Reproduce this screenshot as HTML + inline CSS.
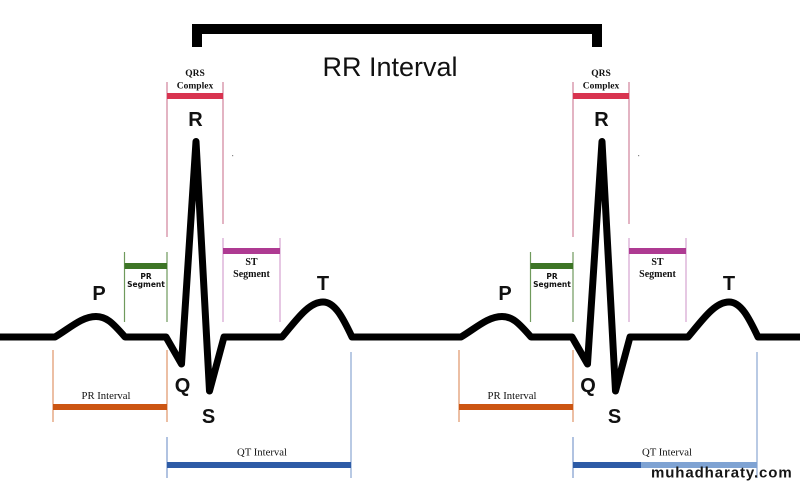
<!DOCTYPE html>
<html>
<head>
<meta charset="utf-8">
<style>
html,body{margin:0;padding:0;background:#fff;}
body{width:800px;height:486px;overflow:hidden;}
svg{display:block;}
.lbl{font-family:"Liberation Sans",Arial,sans-serif;font-weight:bold;font-size:20px;fill:#111;text-anchor:middle;}
.ser{font-family:"Liberation Serif",serif;fill:#111;text-anchor:middle;}
.seg{font-family:"DejaVu Sans",sans-serif;font-weight:bold;font-size:7.5px;fill:#111;text-anchor:middle;}
</style>
</head>
<body>
<svg width="800" height="486" viewBox="0 0 800 486" xmlns="http://www.w3.org/2000/svg">
<rect width="800" height="486" fill="#fff"/>

<!-- RR bracket -->
<rect x="192" y="24" width="410" height="10" fill="#000"/>
<rect x="192" y="24" width="10" height="23" fill="#000"/>
<rect x="592" y="24" width="10" height="23" fill="#000"/>
<text x="390" y="76" font-family="Liberation Sans, Arial, sans-serif" font-size="27" fill="#111" text-anchor="middle">RR Interval</text>

<!-- Beat 1 annotations -->
<g id="ann1">
  <!-- QRS -->
  <line x1="167" y1="82" x2="167" y2="237" stroke="#d0839b" stroke-width="1.2"/>
  <line x1="223" y1="82" x2="223" y2="224" stroke="#d0839b" stroke-width="1.2"/>
  <rect x="167" y="93" width="56" height="6" fill="#d8334f"/>
  <text class="ser" x="195" y="76" font-size="9.5" font-weight="bold">QRS</text>
  <text class="ser" x="195" y="88.5" font-size="9.5" font-weight="bold">Complex</text>
  <!-- PR segment -->
  <line x1="124.5" y1="252" x2="124.5" y2="322" stroke="#6f9a5c" stroke-width="1.2"/>
  <line x1="167" y1="252" x2="167" y2="322" stroke="#6f9a5c" stroke-width="1.2"/>
  <rect x="124.5" y="263" width="42.5" height="6" fill="#3d7526"/>
  <text class="seg" x="146" y="279">PR</text>
  <text class="seg" x="146" y="287">Segment</text>
  <!-- ST segment -->
  <line x1="223" y1="238" x2="223" y2="322" stroke="#d4a2d0" stroke-width="1.2"/>
  <line x1="280" y1="238" x2="280" y2="322" stroke="#d4a2d0" stroke-width="1.2"/>
  <rect x="223" y="248" width="57" height="6" fill="#ae3a92"/>
  <text class="ser" x="251.5" y="265" font-size="10" font-weight="bold">ST</text>
  <text class="ser" x="251.5" y="277" font-size="10" font-weight="bold">Segment</text>
  <!-- PR interval -->
  <line x1="53" y1="350" x2="53" y2="422" stroke="#e09468" stroke-width="1.2"/>
  <line x1="167" y1="350" x2="167" y2="422" stroke="#e09468" stroke-width="1.2"/>
  <rect x="53" y="404" width="114" height="6" fill="#cc5512"/>
  <text class="ser" x="106" y="399" font-size="10.7">PR Interval</text>
  <!-- QT interval -->
  <line x1="167" y1="437" x2="167" y2="478" stroke="#7d9bcd" stroke-width="1.2"/>
  <line x1="351" y1="352" x2="351" y2="478" stroke="#8aa6d2" stroke-width="1.2"/>
  <rect x="167" y="462" width="184" height="6" fill="#2d5ba6"/>
  <text class="ser" x="262" y="455.5" font-size="10.7">QT Interval</text>
  <!-- labels -->
  <text class="lbl" x="195.5" y="126">R</text>
  <text class="lbl" x="99" y="300">P</text>
  <text class="lbl" x="323" y="290">T</text>
  <text class="lbl" x="182.5" y="392">Q</text>
  <text class="lbl" x="208.5" y="423">S</text>
  <rect x="232" y="155" width="1.2" height="1.2" fill="#888"/>
</g>

<!-- Beat 2 annotations -->
<g>
  <line x1="573" y1="82" x2="573" y2="237" stroke="#d0839b" stroke-width="1.2"/>
  <line x1="629" y1="82" x2="629" y2="224" stroke="#d0839b" stroke-width="1.2"/>
  <rect x="573" y="93" width="56" height="6" fill="#d8334f"/>
  <text class="ser" x="601" y="76" font-size="9.5" font-weight="bold">QRS</text>
  <text class="ser" x="601" y="88.5" font-size="9.5" font-weight="bold">Complex</text>

  <line x1="530.5" y1="252" x2="530.5" y2="322" stroke="#6f9a5c" stroke-width="1.2"/>
  <line x1="573" y1="252" x2="573" y2="322" stroke="#6f9a5c" stroke-width="1.2"/>
  <rect x="530.5" y="263" width="42.5" height="6" fill="#3d7526"/>
  <text class="seg" x="552" y="279">PR</text>
  <text class="seg" x="552" y="287">Segment</text>

  <line x1="629" y1="238" x2="629" y2="322" stroke="#d4a2d0" stroke-width="1.2"/>
  <line x1="686" y1="238" x2="686" y2="322" stroke="#d4a2d0" stroke-width="1.2"/>
  <rect x="629" y="248" width="57" height="6" fill="#ae3a92"/>
  <text class="ser" x="657.5" y="265" font-size="10" font-weight="bold">ST</text>
  <text class="ser" x="657.5" y="277" font-size="10" font-weight="bold">Segment</text>

  <line x1="459" y1="350" x2="459" y2="422" stroke="#e09468" stroke-width="1.2"/>
  <line x1="573" y1="350" x2="573" y2="422" stroke="#e09468" stroke-width="1.2"/>
  <rect x="459" y="404" width="114" height="6" fill="#cc5512"/>
  <text class="ser" x="512" y="399" font-size="10.7">PR Interval</text>

  <line x1="573" y1="437" x2="573" y2="478" stroke="#7d9bcd" stroke-width="1.2"/>
  <line x1="757" y1="352" x2="757" y2="478" stroke="#8aa6d2" stroke-width="1.2"/>
  <rect x="573" y="462" width="68" height="6" fill="#2d5ba6"/>
  <rect x="641" y="462" width="116" height="6" fill="#7fa3d3"/>
  <text class="ser" x="667" y="455.5" font-size="10.7">QT Interval</text>

  <text class="lbl" x="601.5" y="126">R</text>
  <text class="lbl" x="505" y="300">P</text>
  <text class="lbl" x="729" y="290">T</text>
  <text class="lbl" x="588" y="392">Q</text>
  <text class="lbl" x="614.5" y="423">S</text>
  <rect x="638" y="155" width="1.2" height="1.2" fill="#888"/>
</g>

<!-- ECG trace -->
<path fill="none" stroke="#000" stroke-width="7" stroke-linejoin="round" stroke-linecap="butt"
 d="M0,337 L55,337
    C70,328 82,316.5 96,316.5 C106,316.5 112,322 125,337
    L166,337 L181.5,364 L196,141.5 L209.5,391 L224,337
    L282,337
    C295,322 308,302 323,302 C335,302 343,318 352,337
    L461,337
    C476,328 488,316.5 502,316.5 C512,316.5 518,322 531,337
    L572,337 L587.5,364 L602,141.5 L615.5,391 L630,337
    L688,337
    C701,322 714,302 729,302 C741,302 749,318 758,337
    L800,337"/>

<!-- watermark -->
<text x="651" y="477.5" font-family="Liberation Sans, Arial, sans-serif" font-weight="bold" font-size="15" letter-spacing="0.9" fill="#161616">muhadharaty.com</text>
</svg>
</body>
</html>
